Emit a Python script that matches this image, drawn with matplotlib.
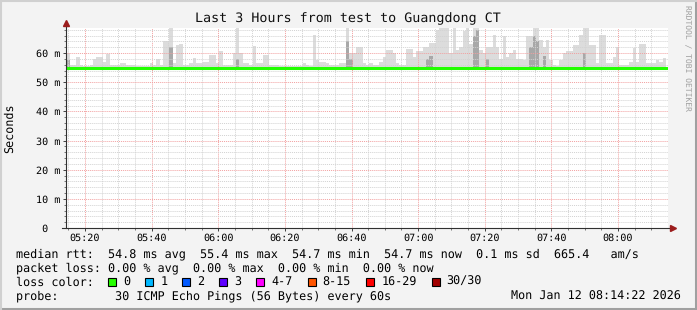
import numpy as np
import matplotlib.pyplot as plt
from matplotlib.patches import Rectangle
from matplotlib.lines import Line2D

plt.rcParams['text.hinting'] = 'none'

# smokeping graph, last 3 hours in 1 minute steps from 05:14:22
start_min = 14 + 22 / 60          # minutes after 05:00
ping_low = 54.5                   # lowest ping (ms)

# highest ping per step (ms)
ping_max = [
    60.0, 56.0, 56.0, 58.8, 56.0, 55.6, 55.6, 56.0, 57.9, 58.8,
    58.8, 57.0, 59.6, 56.0, 56.0, 56.0, 56.5, 56.5, 56.0, 56.0,
    55.8, 55.6, 55.6, 55.6, 55.6, 56.5, 55.8, 57.9, 56.0, 64.2,
    64.2, 70.0, 56.5, 62.9, 63.2, 56.0, 56.0, 56.5, 58.4, 56.5,
    56.5, 57.0, 57.0, 59.4, 59.4, 56.5, 60.8, 56.0, 56.0, 56.0,
    60.0, 70.0, 60.0, 56.5, 56.5, 56.0, 62.5, 56.5, 56.5, 59.4,
    59.4, 56.0, 56.0, 56.0, 55.6, 55.6, 55.4, 55.4, 55.4, 55.6,
    55.4, 56.5, 56.0, 55.6, 66.3, 57.7, 57.1, 57.1, 56.5, 56.0,
    56.0, 56.0, 56.5, 56.5, 70.0, 60.0, 60.0, 62.2, 62.2, 56.5,
    56.0, 56.5, 56.0, 56.0, 57.1, 58.7, 60.9, 60.9, 60.0, 56.5,
    56.0, 56.0, 61.4, 61.4, 58.8, 60.6, 60.6, 62.2, 62.2, 63.4,
    63.4, 68.0, 70.0, 70.0, 70.0, 60.0, 70.0, 61.0, 62.0, 67.5,
    70.0, 63.0, 70.0, 70.0, 61.0, 60.0, 62.0, 62.0, 66.3, 62.0,
    58.0, 66.0, 58.5, 60.0, 61.0, 58.0, 58.0, 57.5, 66.0, 66.0,
    70.0, 70.0, 64.5, 62.0, 64.5, 57.5, 56.0, 55.4, 57.7, 60.0,
    60.6, 60.6, 62.9, 62.9, 66.3, 70.0, 70.0, 62.6, 62.6, 56.5,
    66.3, 66.3, 56.5, 56.5, 58.7, 62.2, 56.0, 56.0, 56.0, 57.1,
    61.6, 57.1, 63.2, 63.2, 56.5, 56.5, 56.5, 57.7, 57.1, 58.3,
]

# steps with a dense (darker) smoke part and its top (ms)
dense_steps = [0, 31, 51, 84, 85, 108, 109, 122, 123, 126, 139, 140, 141, 143, 155]
dense_top = [57.5, 62.0, 58.0, 64.0, 58.0, 58.0, 59.0, 66.0, 68.0, 58.0, 62.0, 66.0, 64.0, 59.0, 60.0]

median_rtt = [
    54.9, 54.8, 54.8, 54.8, 54.9, 54.8, 54.8, 54.8, 54.75, 54.8, 54.8, 54.8, 54.9, 54.8, 54.8, 54.8, 54.8, 54.75, 54.8, 54.8,
    54.8, 54.8, 54.8, 54.8, 54.8, 54.8, 54.8, 54.8, 54.8, 54.9, 54.9, 54.9, 54.8, 54.8, 54.8, 54.8, 54.8, 54.8, 54.8, 54.8,
    54.8, 54.8, 54.9, 54.8, 54.8, 54.8, 54.8, 54.8, 54.8, 54.8, 54.8, 54.9, 54.8, 54.8, 54.8, 54.8, 54.8, 54.8, 54.8, 54.8,
    54.8, 54.8, 54.75, 54.75, 54.75, 54.75, 54.75, 54.75, 54.75, 54.75, 54.75, 54.8, 54.8, 54.8, 54.8, 54.8, 54.8, 54.8, 54.8, 54.8,
    54.8, 54.8, 54.8, 54.8, 55.0, 54.9, 54.8, 54.8, 54.8, 54.8, 54.8, 54.8, 54.75, 54.75, 54.8, 54.8, 54.8, 54.8, 54.8, 54.8,
    54.8, 54.8, 54.8, 54.8, 54.75, 54.75, 54.8, 54.8, 54.9, 54.9, 54.8, 54.8, 54.8, 54.8, 54.8, 54.8, 54.8, 54.8, 54.8, 54.8,
    54.8, 54.8, 54.9, 55.0, 54.8, 54.8, 54.9, 54.8, 54.8, 54.8, 54.8, 54.8, 54.8, 54.8, 54.8, 54.8, 54.8, 54.8, 54.9, 54.9,
    55.0, 54.9, 54.8, 54.8, 54.8, 54.8, 54.75, 54.75, 54.75, 54.8, 54.8, 54.8, 54.8, 54.8, 54.8, 54.9, 54.8, 54.8, 54.8, 54.8,
    54.8, 54.9, 54.8, 54.8, 54.8, 54.8, 54.75, 54.75, 54.8, 54.8, 54.8, 54.8, 54.8, 54.8, 54.8, 54.8, 54.8, 54.8, 54.8, 54.8,
]

xtick_min = [20, 40, 60, 80, 100, 120, 140, 160, 180]
xtick_labels = ['05:20', '05:40', '06:00', '06:20', '06:40', '07:00', '07:20', '07:40', '08:00']
ytick_vals = [0, 10, 20, 30, 40, 50, 60]
ytick_labels = [' 0', '10 m', '20 m', '30 m', '40 m', '50 m', '60 m']

loss_labels = ['0', '1', '2', '3', '4-7', '8-15', '16-29', '30/30']
loss_colors = ['#26ff00', '#00b8ff', '#0059ff', '#5e00ff', '#ff00ff', '#ff5500', '#ff0000', '#a10000']

title = 'Last 3 Hours from test to Guangdong CT'
legend_lines = [
    'median rtt:  54.8 ms avg  55.4 ms max  54.7 ms min  54.7 ms now  0.1 ms sd  665.4   am/s',
    'packet loss: 0.00 % avg  0.00 % max  0.00 % min  0.00 % now',
    'loss color:',
    'probe:        30 ICMP Echo Pings (56 Bytes) every 60s',
]
stamp = 'Mon Jan 12 08:14:22 2026'

MONO = 'DejaVu Sans Mono'
LEG_FS = 8.5
W, H = 697, 310
fig = plt.figure(figsize=(W / 100, H / 100), dpi=100, facecolor='#f3f3f3')
ax = fig.add_axes([66 / W, 1 - 228 / H, 602 / W, 200 / H])
ax.set_facecolor('white')

t = start_min + np.arange(len(ping_max))
t_edges = np.append(t, t[-1] + 1)
top = np.append(ping_max, ping_max[-1])
ax.fill_between(t_edges, ping_low, top, step='post', color='#dcdcdc', lw=0, zorder=1)
ax.bar(t[dense_steps], np.array(dense_top) - ping_low, bottom=ping_low, width=1.0,
       align='edge', color='#a8a8a8', lw=0, zorder=1.5)
ax.step(t_edges, np.append(median_rtt, median_rtt[-1]), where='post',
        color='#22ff00', lw=2.2, zorder=4)

ax.set_xlim(14.3, 195.0)
ax.set_ylim(0, 68.6)
ax.set_xticks(xtick_min, xtick_labels)
ax.set_xticks(np.arange(15, 195, 5), minor=True)
ax.set_yticks(ytick_vals, ytick_labels)
ax.set_yticks(np.arange(0, 69, 2), minor=True)
ax.set_axisbelow(False)
ax.grid(which='minor', color='#d2d2d2', ls=(0, (1, 1)), lw=0.7)
ax.grid(which='major', color='#f2a0a0', ls=(0, (1, 1)), lw=0.7)

ax.tick_params(which='major', length=2.2, width=0.7, color='#404040', labelsize=7.3)
ax.tick_params(which='minor', length=1.2, width=0.6, color='#606060')
ax.tick_params(axis='x', pad=1.5)
ax.tick_params(axis='y', pad=21.6 - 2.2)
for lab in ax.get_yticklabels():
    lab.set_ha('left')
    lab.set_family(MONO)
for lab in ax.get_xticklabels():
    lab.set_family(MONO)

for s in ax.spines.values():
    s.set_visible(False)
ax.plot([0, 0], [0, 1.025], transform=ax.transAxes, clip_on=False, color='#303030', lw=0.8, zorder=5)
ax.plot([-0.007, 1.006], [0, 0], transform=ax.transAxes, clip_on=False, color='#303030', lw=0.8, zorder=5)
ax.plot([0], [1.025], marker='^', ms=4, color='#9b1c1c', transform=ax.transAxes, clip_on=False, zorder=6)
ax.plot([1.008], [0], marker='>', ms=4, color='#9b1c1c', transform=ax.transAxes, clip_on=False, zorder=6)

fig.text(348 / W, 1 - 19 / H, title, ha='center', va='center', family=MONO, fontsize=9.6, color='#101010')
fig.text(10 / W, 1 - 128 / H, 'Seconds', rotation=90, ha='center', va='center', family=MONO, fontsize=LEG_FS)
fig.text(687 / W, 1 - 58 / H, 'RRDTOOL / TOBI OETIKER', rotation=270, ha='center', va='center',
         family=MONO, fontsize=5.8, color='#a0a0a0')

line_y = [254, 268, 282, 296]
for txt, y in zip(legend_lines, line_y):
    fig.text(16 / W, 1 - y / H, txt, ha='left', va='center', family=MONO, fontsize=LEG_FS)
fig.text(681 / W, 1 - 296 / H, stamp, ha='right', va='center', family=MONO, fontsize=LEG_FS)

# loss colour boxes
char_w = 7.1
x = 108.0
for lab, col in zip(loss_labels, loss_colors):
    fig.add_artist(Rectangle((x / W, 1 - 286 / H), 8 / W, 8 / H, transform=fig.transFigure,
                             facecolor=col, edgecolor='black', lw=0.8))
    fig.text((x + 15) / W, 1 - 282 / H, lab, ha='left', va='center', family=MONO, fontsize=LEG_FS)
    x += 30 + len(lab) * char_w

# 3d-ish frame
fig.add_artist(Line2D([0, 1], [0.003, 0.003], transform=fig.transFigure, color='#a0a0a0', lw=2.2))
fig.add_artist(Line2D([0.998, 0.998], [0, 1], transform=fig.transFigure, color='#a0a0a0', lw=2.2))
fig.add_artist(Line2D([0, 1], [0.998, 0.998], transform=fig.transFigure, color='#d0d0d0', lw=1.5))
fig.add_artist(Line2D([0.001, 0.001], [0, 1], transform=fig.transFigure, color='#d0d0d0', lw=1.5))

fig.savefig('out.png', dpi=100, facecolor=fig.get_facecolor())
